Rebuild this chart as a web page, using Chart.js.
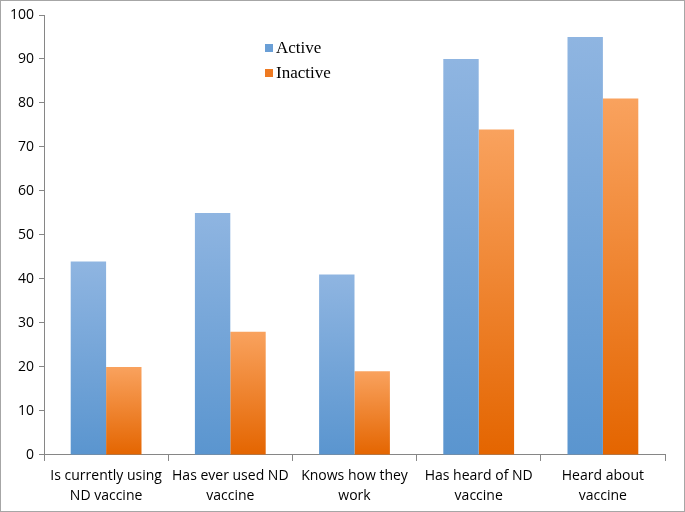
<!DOCTYPE html>
<html>
<head>
<meta charset="utf-8">
<script src="https://cdn.jsdelivr.net/npm/chart.js@4"></script>
<style>
    html, body { margin: 0; padding: 0; background: #fff; }
    #wrap { width: 683px; height: 510px; border: 1px solid #a6a6a6; }
</style>
</head>
<body>
<div id="wrap"><canvas id="vaccineChart" width="683" height="510"></canvas></div>
<script>
const categories = [
    ["Is currently using", "ND vaccine"],
    ["Has ever used ND", "vaccine"],
    ["Knows how they", "work"],
    ["Has heard of ND", "vaccine"],
    ["Heard about", "vaccine"],
];
const activeValues = [44, 55, 41, 90, 95];
const inactiveValues = [20, 28, 19, 74, 81];
const yTicks = [0, 10, 20, 30, 40, 50, 60, 70, 80, 90, 100];

// per bar gradient, light at the top, darker at the base
function barGradient(top, bottom) {
    return function (ctx) {
        const chart = ctx.chart;
        const y = chart.scales.y;
        if (!chart.chartArea || !y || ctx.raw == null) return bottom;
        const yTop = y.getPixelForValue(ctx.raw);
        const yBase = y.getPixelForValue(0);
        const g = chart.ctx.createLinearGradient(0, yTop, 0, yBase);
        g.addColorStop(0, top);
        g.addColorStop(1, bottom);
        return g;
    };
}

// legend drawn inside the plot, like the original
const innerLegend = {
    id: "innerLegend",
    afterDraw(chart) {
        const ctx = chart.ctx;
        const x = 264;
        const rows = [47, 72];
        ctx.save();
        chart.data.datasets.forEach((ds, i) => {
            ctx.fillStyle = ds.legendColor;
            ctx.fillRect(x, rows[i] - 4, 8, 8);
            ctx.fillStyle = "#000";
            ctx.font = "17px 'Liberation Serif', 'DejaVu Serif', serif";
            ctx.textBaseline = "middle";
            ctx.fillText(ds.label, x + 11, rows[i] + 1);
        });
        ctx.restore();
    },
};

new Chart(document.getElementById("vaccineChart"), {
    type: "bar",
    data: {
        labels: categories,
        datasets: [
            {
                label: "Active",
                data: activeValues,
                backgroundColor: barGradient("#8fb5e1", "#5a95cf"),
                legendColor: "#6a9fd6",
                categoryPercentage: 0.57,
                barPercentage: 1.0,
            },
            {
                label: "Inactive",
                data: inactiveValues,
                backgroundColor: barGradient("#f9a25e", "#e46500"),
                legendColor: "#ee7a22",
                categoryPercentage: 0.57,
                barPercentage: 1.0,
            },
        ],
    },
    options: {
        responsive: false,
        animation: false,
        layout: { padding: { top: 14, right: 19, left: 0, bottom: 0 } },
        plugins: {
            legend: { display: false },
            tooltip: { enabled: false },
        },
        scales: {
            x: {
                grid: {
                    offset: true,
                    drawOnChartArea: false,
                    drawTicks: true,
                    tickLength: 6,
                    color: "#868686",
                },
                border: { display: true, color: "#868686" },
                ticks: {
                    color: "#000",
                    font: { family: "'Open Sans', 'Liberation Sans', sans-serif", size: 14, lineHeight: 1.43 },
                    padding: 5,
                    maxRotation: 0,
                },
            },
            y: {
                min: 0,
                max: 100,
                afterBuildTicks: (scale) => {
                    scale.ticks = yTicks.map((v) => ({ value: v }));
                },
                afterFit: (scale) => {
                    scale.width = 43;
                },
                grid: {
                    drawOnChartArea: false,
                    drawTicks: true,
                    tickLength: 5,
                    color: "#868686",
                },
                border: { display: true, color: "#868686" },
                ticks: {
                    color: "#000",
                    font: { family: "'Open Sans', 'Liberation Sans', sans-serif", size: 14 },
                    padding: 5,
                },
            },
        },
    },
    plugins: [innerLegend],
});
</script>
</body>
</html>
